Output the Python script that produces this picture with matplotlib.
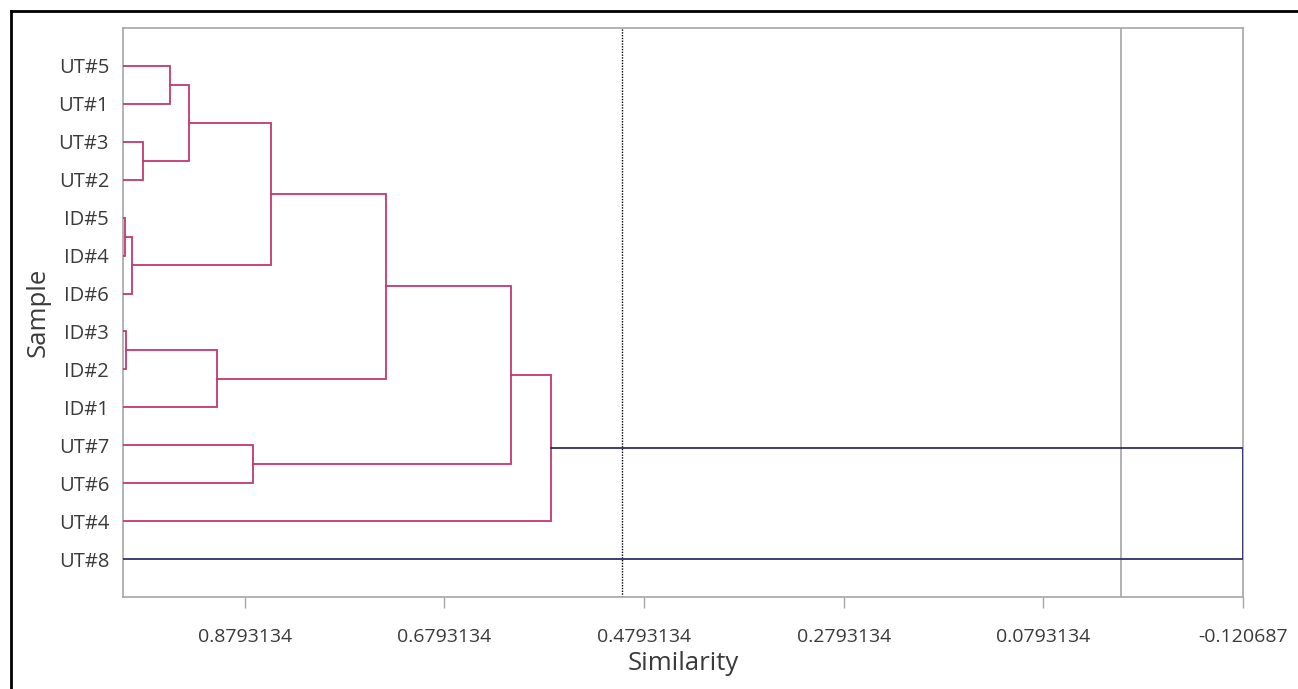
import matplotlib
matplotlib.use("Agg")
import matplotlib.pyplot as plt
from matplotlib.lines import Line2D

plt.rcParams['font.family'] = ['Open Sans', 'DejaVu Sans']

# ---- data ----
leaf_labels = ["UT#5", "UT#1", "UT#3", "UT#2", "ID#5", "ID#4", "ID#6",
               "ID#3", "ID#2", "ID#1", "UT#7", "UT#6", "UT#4", "UT#8"]
# linkage: (child_a, child_b, similarity); leaves 0..13, new clusters 14..
merge_a = [0, 2, 14, 4, 17, 16, 7, 20, 19, 10, 22, 24, 25]
merge_b = [1, 3, 15, 5, 6, 18, 8, 9, 21, 11, 23, 12, 13]
merge_sim = [0.954, 0.981, 0.935, 0.999, 0.992, 0.853, 0.998, 0.907,
             0.738, 0.871, 0.613, 0.573, -0.120687]
leaf_sim = 1.0013
tick_values = [0.8793134, 0.6793134, 0.4793134, 0.2793134, 0.0793134, -0.120687]
tick_labels = ["0.8793134", "0.6793134", "0.4793134", "0.2793134", "0.0793134", "-0.120687"]
cut_dotted = 0.501
cut_solid = 0.002

PINK = "#C4386F"
NAVY = "#2E2F6B"
GRAY = "#A6A6A6"
TXT = "#3A3A3A"

W, H = 1298, 689
fig = plt.figure(figsize=(W / 100, H / 100), dpi=100)
ax = fig.add_axes([123 / W, 1 - 597 / H, (1243 - 123) / W, (597 - 28) / H])

n = len(leaf_labels)
pos = {i: i + 1 for i in range(n)}
hgt = {i: leaf_sim for i in range(n)}
for k, (a, b, s) in enumerate(zip(merge_a, merge_b, merge_sim)):
    cid = n + k
    col = NAVY if k == len(merge_a) - 1 else PINK
    ya, yb = pos[a], pos[b]
    ax.plot([hgt[a], s, s, hgt[b]], [ya, ya, yb, yb], color=col, lw=1.3,
            solid_joinstyle='miter', zorder=3)
    pos[cid] = (ya + yb) / 2
    hgt[cid] = s

ax.axvline(cut_dotted, color="black", lw=1.0, ls=(0, (1.0, 1.0)), zorder=2)
ax.axvline(cut_solid, color=GRAY, lw=1.2, zorder=2)

ax.set_xlim(leaf_sim, tick_values[-1])
ax.set_ylim(n + 1, 0)
ax.set_yticks(range(1, n + 1))
ax.set_yticklabels(leaf_labels)
ax.set_xticks(tick_values)
ax.set_xticklabels(tick_labels)

for sp in ax.spines.values():
    sp.set_color(GRAY)
    sp.set_linewidth(1.2)
ax.tick_params(axis='y', length=0, pad=10, labelsize=14.5, labelcolor=TXT)
ax.tick_params(axis='x', direction='out', length=8, width=1, color=GRAY,
               pad=14, labelsize=14, labelcolor=TXT)

ax.set_xlabel("Similarity", fontsize=18.5, color=TXT, va='center')
ax.xaxis.set_label_coords(0.5, (597 - 663) / 569)
ax.set_ylabel("Sample", fontsize=18.5, color=TXT, va='center')
ax.yaxis.set_label_coords((38 - 123) / 1120, (597 - 312) / 569)

# outer black frame (left and top edges visible)
fig.add_artist(Line2D([11 / W, 11 / W], [0, 1 - 11 / H], transform=fig.transFigure,
                      color="black", lw=2))
fig.add_artist(Line2D([11 / W, 1], [1 - 11 / H, 1 - 11 / H], transform=fig.transFigure,
                      color="black", lw=2))

fig.savefig("out.png", dpi=100)
